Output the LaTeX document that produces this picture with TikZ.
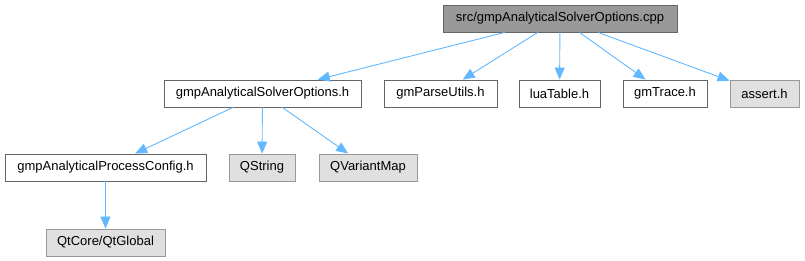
\documentclass[tikz,border=0pt]{standalone}
\usepackage{fontspec}
\setmainfont{Liberation Sans}
\usetikzlibrary{arrows.meta}
\definecolor{edgeblue}{HTML}{63B8FF}
\definecolor{darkfill}{HTML}{999999}
\definecolor{darkline}{HTML}{666666}
\definecolor{grayfill}{HTML}{E0E0E0}
\definecolor{grayline}{HTML}{999999}
\begin{document}
\begin{tikzpicture}[x=1pt,y=-1pt,
  box/.style={draw=darkline,fill=white,line width=0.9pt,minimum height=27pt,inner sep=0pt,
    font=\fontsize{13}{15}\selectfont,text=black,anchor=center},
  rootbox/.style={box,fill=darkfill},
  extbox/.style={box,draw=grayline,fill=grayfill},
  dep/.style={draw=edgeblue,line width=0.9pt,-{Triangle[length=12pt,width=10pt]}}]
\useasboundingbox (0,0) rectangle (805,261);
\node[rootbox,minimum width=234pt] (root) at (560,18.5) {src/gmpAnalyticalSolverOptions.cpp};
\node[box,minimum width=197pt] (aso) at (262.5,93.5) {gmpAnalyticalSolverOptions.h};
\node[box,minimum width=113pt] (parse) at (440.5,93.5) {gmParseUtils.h};
\node[box,minimum width=81pt] (lua) at (559.5,93.5) {luaTable.h};
\node[box,minimum width=84pt] (trace) at (665,93.5) {gmTrace.h};
\node[extbox,minimum width=69pt] (assert) at (764.5,93.5) {assert.h};
\node[box,minimum width=201pt] (config) at (105.5,167.5) {gmpAnalyticalProcessConfig.h};
\node[extbox,minimum width=66pt] (qstring) at (262,167.5) {QString};
\node[extbox,minimum width=98pt] (qvm) at (368,167.5) {QVariantMap};
\node[extbox,minimum width=119pt] (qtglobal) at (105.5,242.5) {QtCore/QtGlobal};
\draw[dep] (root) -- (aso);
\draw[dep] (root) -- (parse);
\draw[dep] (root) -- (lua);
\draw[dep] (root) -- (trace);
\draw[dep] (root) -- (assert);
\draw[dep] (aso) -- (config);
\draw[dep] (aso) -- (qstring);
\draw[dep] (aso) -- (qvm);
\draw[dep] (config) -- (qtglobal);
\end{tikzpicture}
\end{document}
